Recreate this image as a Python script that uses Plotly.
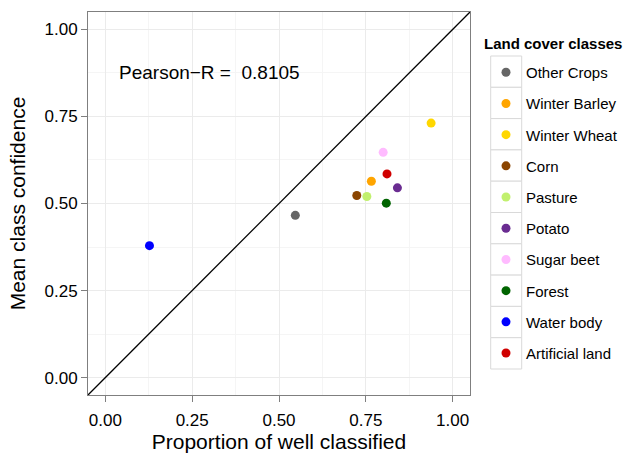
import plotly.graph_objects as go

classes = ["Other Crops", "Winter Barley", "Winter Wheat", "Corn", "Pasture",
           "Potato", "Sugar beet", "Forest", "Water body", "Artificial land"]
colors = ["#666666", "#FFA500", "#FFD700", "#8B4500", "#C1F06E",
          "#6A2C91", "#FFBBFF", "#006400", "#0000FF", "#D00000"]
prop_well = [0.547, 0.766, 0.938, 0.724, 0.753, 0.841, 0.800, 0.809, 0.127, 0.811]
mean_conf = [0.466, 0.564, 0.731, 0.523, 0.520, 0.545, 0.647, 0.501, 0.379, 0.585]
pearson_r = 0.8105
ticks = [0, 0.25, 0.5, 0.75, 1.0]
tick_text = ["0.00", "0.25", "0.50", "0.75", "1.00"]
diag = [-0.05, 1.05]

FONT = "Liberation Sans, Arial, sans-serif"
W, H = 627, 458
ML, MR, MT, MB = 88, 157, 12, 63
PW, PH = W - ML - MR, H - MT - MB

fig = go.Figure()
fig.add_trace(go.Scatter(x=diag, y=diag, mode="lines",
                         line=dict(color="black", width=1.3),
                         showlegend=False, hoverinfo="skip"))
for name, c, xv, yv in zip(classes, colors, prop_well, mean_conf):
    fig.add_trace(go.Scatter(x=[xv], y=[yv], mode="markers", name=name,
                             legendgroup=name,
                             marker=dict(color=c, size=9)))

fig.add_annotation(x=0.30, y=0.876, xref="x", yref="y",
                   text=f"Pearson\u2212R =  {pearson_r:.4f}", showarrow=False,
                   font=dict(size=19, color="black", family=FONT))

def px2paper(px, py):
    return (px - ML) / PW, (H - MB - py) / PH

# legend title
tx, ty = px2paper(482, 44)
fig.add_annotation(x=tx, y=ty, xref="paper", yref="paper", xanchor="left", yanchor="middle",
                   text="<b>Land cover classes</b>", showarrow=False,
                   font=dict(size=15, color="black", family=FONT))

# legend key boxes (decoration)
box_top, box_h, box_l, box_r = 56.0, 31.3, 490.7, 521.7
for i in range(len(classes)):
    x0, y0 = px2paper(box_l, box_top + box_h * (i + 1))
    x1, y1 = px2paper(box_r, box_top + box_h * i)
    fig.add_shape(type="rect", xref="paper", yref="paper", x0=x0, x1=x1, y0=y0, y1=y1,
                  line=dict(color="#D9D9D9", width=1), fillcolor="white", layer="below")

axis_common = dict(range=[-0.05, 1.05], tickvals=ticks, ticktext=tick_text,
                   showgrid=True, gridcolor="#EBEBEB", gridwidth=1,
                   minor=dict(showgrid=True, gridcolor="#F5F5F5", dtick=0.125, tick0=0.125),
                   zeroline=False, showline=True, linecolor="#7F7F7F", linewidth=1,
                   mirror=True, ticks="outside", ticklen=6, tickcolor="#7F7F7F",
                   tickfont=dict(size=17, color="black", family=FONT))

fig.update_xaxes(**axis_common, ticklabelstandoff=4,
                 title=dict(text="Proportion of well classified",
                            font=dict(size=21, color="black", family=FONT), standoff=2))
fig.update_yaxes(**axis_common, title=dict(text="Mean class confidence",
                 font=dict(size=21, color="black", family=FONT), standoff=13))

lx, ly = px2paper(486, 56)
fig.update_layout(
    width=W, height=H,
    margin=dict(l=ML, r=MR, t=MT, b=MB, autoexpand=False),
    paper_bgcolor="white", plot_bgcolor="white",
    font=dict(family=FONT, color="black"),
    legend=dict(font=dict(size=15), x=lx, xanchor="left", y=ly, yanchor="top",
                tracegroupgap=8.7, itemwidth=30, bgcolor="rgba(0,0,0,0)"),
)

fig.write_html("out.html", config={"displayModeBar": False},
               post_script="document.body.style.margin='0';")
